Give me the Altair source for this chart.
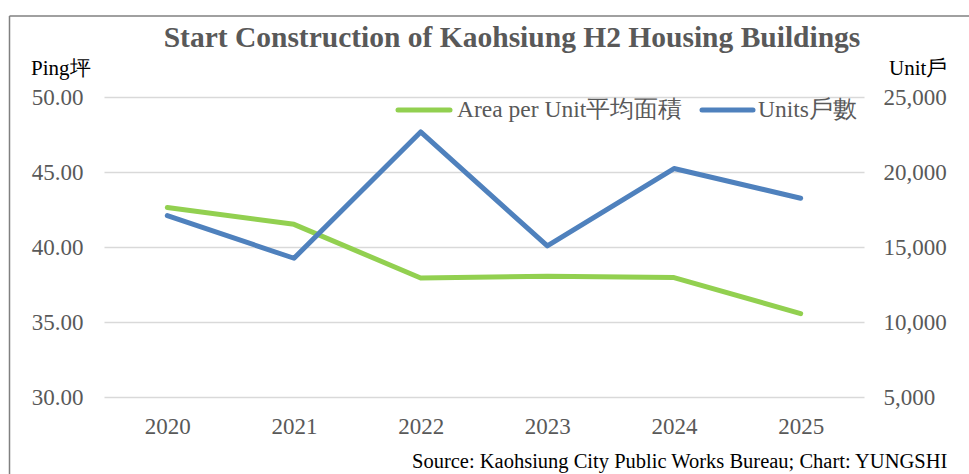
import altair as alt
import pandas as pd

years = ["2020", "2021", "2022", "2023", "2024", "2025"]
area_per_unit = [42.63, 41.51, 37.93, 38.05, 37.96, 35.56]
units = [17090, 14250, 22670, 15070, 20230, 18250]

title_text = "Start Construction of Kaohsiung H2 Housing Buildings"
left_title = "Ping坪"
right_title = "Unit戶"
legend_labels = ["Area per Unit平均面積", "Units戶數"]
source_text = "Source: Kaohsiung City Public Works Bureau; Chart: YUNGSHI"

left_ticks = [30, 35, 40, 45, 50]
right_ticks = [5000, 10000, 15000, 20000, 25000]

GREEN = "#92D050"
BLUE = "#4F81BD"
GREY = "#595959"
FONT = "Liberation Serif"

df = pd.DataFrame({"year": years, "area": area_per_unit, "units": units})

x_enc = alt.X(
    "year:O",
    scale=alt.Scale(type="point", padding=0.5),
    axis=alt.Axis(
        title=None, labelAngle=0, domain=False, ticks=False,
        labelFont=FONT, labelFontSize=23, labelColor=GREY,
        labelBaseline="alphabetic", labelPadding=36,
    ),
)

base = alt.Chart(df).encode(x=x_enc)

green = base.mark_line(color=GREEN, strokeWidth=5, strokeCap="round", strokeJoin="round").encode(
    y=alt.Y(
        "area:Q",
        scale=alt.Scale(domain=[30, 50], nice=False, zero=False),
        axis=alt.Axis(
            orient="left", values=left_ticks, format=".2f", title=None,
            domain=False, ticks=False, grid=True, gridColor="#D9D9D9", gridWidth=1.6,
            labelFont=FONT, labelFontSize=23, labelColor=GREY, labelPadding=21,
        ),
    )
)

blue = base.mark_line(color=BLUE, strokeWidth=5, strokeCap="round", strokeJoin="round").encode(
    y=alt.Y(
        "units:Q",
        scale=alt.Scale(domain=[5000, 25000], nice=False, zero=False),
        axis=alt.Axis(
            orient="right", values=right_ticks, format=",.0f", title=None,
            domain=False, ticks=False, grid=False,
            labelFont=FONT, labelFontSize=23, labelColor=GREY, labelPadding=19,
        ),
    )
)

one = pd.DataFrame({"k": [0]})

def txt(text, x, y, size, color, align="left", bold=False):
    return alt.Chart(one).mark_text(
        text=text, font=FONT, fontSize=size, color=color, align=align,
        baseline="alphabetic", fontWeight="bold" if bold else "normal",
    ).encode(x=alt.value(x), y=alt.value(y))

title = txt(title_text, 408, -50, 29.5, GREY, align="center", bold=True)
lt = txt(left_title, -73, -22, 21, "black")
rt = txt(right_title, 785, -22, 21, "black")
src = txt(source_text, 308, 371, 20.5, "black")

leg1_line = alt.Chart(one).mark_rule(color=GREEN, strokeWidth=5, strokeCap="round").encode(
    x=alt.value(294), x2=alt.value(346), y=alt.value(13))
leg1_txt = txt(legend_labels[0], 353, 20, 23.5, GREY)
leg2_line = alt.Chart(one).mark_rule(color=BLUE, strokeWidth=5, strokeCap="round").encode(
    x=alt.value(598), x2=alt.value(649), y=alt.value(13))
leg2_txt = txt(legend_labels[1], 654, 20, 23.5, GREY)

border_top = alt.Chart(one).mark_rule(color="#808080", strokeWidth=1.5).encode(
    x=alt.value(-94.5), x2=alt.value(900), y=alt.value(-81))
border_left = alt.Chart(one).mark_rule(color="#808080", strokeWidth=1.5).encode(
    x=alt.value(-94.5), y=alt.value(-81), y2=alt.value(400))

chart = alt.layer(
    green, blue, title, lt, rt, src, leg1_line, leg1_txt, leg2_line, leg2_txt,
    border_top, border_left,
).resolve_scale(y="independent").properties(
    width=760, height=300,
    padding={"left": 104, "top": 97, "right": 105, "bottom": 77},
    autosize=alt.AutoSizeParams(type="none"),
    background="white",
).configure(font=FONT).configure_axis(labelFont=FONT).configure_text(font=FONT).configure_view(strokeWidth=0)

chart.save("out.html", embed_options={"renderer": "svg", "actions": False})
